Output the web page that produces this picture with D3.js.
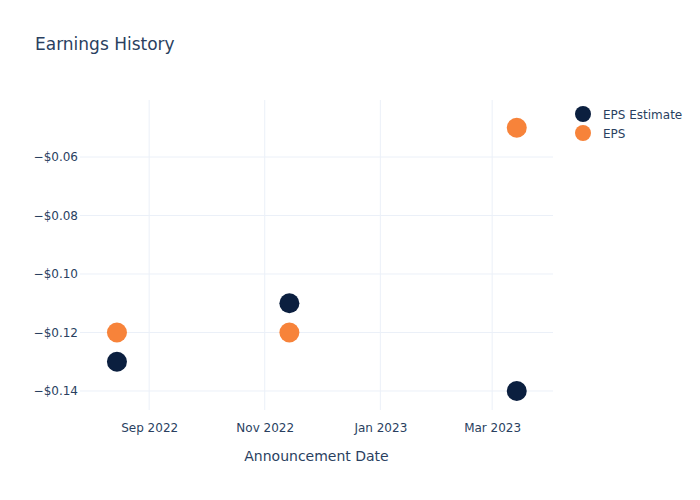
<!DOCTYPE html>
<html><head><meta charset="utf-8">
<script src="https://cdn.jsdelivr.net/npm/d3@7"></script>
<style>body{margin:0;background:#fff;} text{font-family:"DejaVu Sans", sans-serif;}</style>
</head><body>
<svg id="c" width="700" height="500"></svg>
<script>
const dates = ["2022-08-15", "2022-11-14", "2023-03-14"];
const epsEstimate = [-0.13, -0.11, -0.14];
const eps = [-0.12, -0.12, -0.05];
const seriesNames = ["EPS Estimate", "EPS"];
const seriesColors = ["#0b1f3f", "#f7833a"];
const yTicks = [-0.14, -0.12, -0.10, -0.08, -0.06];
const xTicks = ["2022-09-01", "2022-11-01", "2023-01-01", "2023-03-01"];
const xTickLabels = ["Sep 2022", "Nov 2022", "Jan 2023", "Mar 2023"];

const svg = d3.select("#c");
const L = 80, R = 553, T = 100, B = 410;
const textColor = "#2a3f5f", gridColor = "#ebf0f8";
const parse = d3.utcParse("%Y-%m-%d");

const x = d3.scaleUtc()
  .domain([Date.UTC(2022, 6, 26, 12), Date.UTC(2023, 3, 2, 3)])
  .range([L, R]);
const y = d3.scaleLinear().domain([-0.1465, -0.04051]).range([B, T]);

// grid
svg.append("g").selectAll("line").data(xTicks).join("line")
  .attr("x1", d => x(parse(d))).attr("x2", d => x(parse(d)))
  .attr("y1", T).attr("y2", B).attr("stroke", gridColor).attr("stroke-width", 1);
svg.append("g").selectAll("line").data(yTicks).join("line")
  .attr("x1", L).attr("x2", R)
  .attr("y1", d => y(d)).attr("y2", d => y(d)).attr("stroke", gridColor).attr("stroke-width", 1);

// axes via d3
const fmt = v => "\u2212$" + Math.abs(v).toFixed(2);
const yAxis = svg.append("g").attr("transform", `translate(${L},0)`)
  .call(d3.axisLeft(y).tickValues(yTicks).tickFormat(fmt).tickSize(0).tickPadding(2));
yAxis.select(".domain").remove();
yAxis.selectAll("text").attr("fill", textColor).attr("font-size", 12).attr("font-family", "DejaVu Sans");

const xAxis = svg.append("g").attr("transform", `translate(0,${B})`)
  .call(d3.axisBottom(x).tickValues(xTicks.map(parse)).tickFormat((d, i) => xTickLabels[i]).tickSize(0).tickPadding(13));
xAxis.select(".domain").remove();
xAxis.selectAll("text").attr("fill", textColor).attr("font-size", 12).attr("font-family", "DejaVu Sans");

// points
const series = [epsEstimate, eps];
series.forEach((vals, si) => {
  svg.append("g").selectAll("circle").data(vals).join("circle")
    .attr("cx", (d, i) => x(parse(dates[i])))
    .attr("cy", d => y(d))
    .attr("r", 10)
    .attr("fill", seriesColors[si]);
});

// title
svg.append("text").attr("x", 35).attr("y", 50).attr("fill", textColor)
  .attr("font-size", 17).text("Earnings History");

// x axis title
svg.append("text").attr("x", (L + R) / 2).attr("y", 461).attr("text-anchor", "middle")
  .attr("fill", textColor).attr("font-size", 14).text("Announcement Date");

// legend
seriesNames.forEach((n, i) => {
  const g = svg.append("g").attr("transform", `translate(583,${114 + i * 19})`);
  g.append("circle").attr("r", 8).attr("fill", seriesColors[i]);
  g.append("text").attr("x", 20).attr("y", 4.5).attr("fill", textColor).attr("font-size", 12).text(n);
});
</script>
</body></html>
